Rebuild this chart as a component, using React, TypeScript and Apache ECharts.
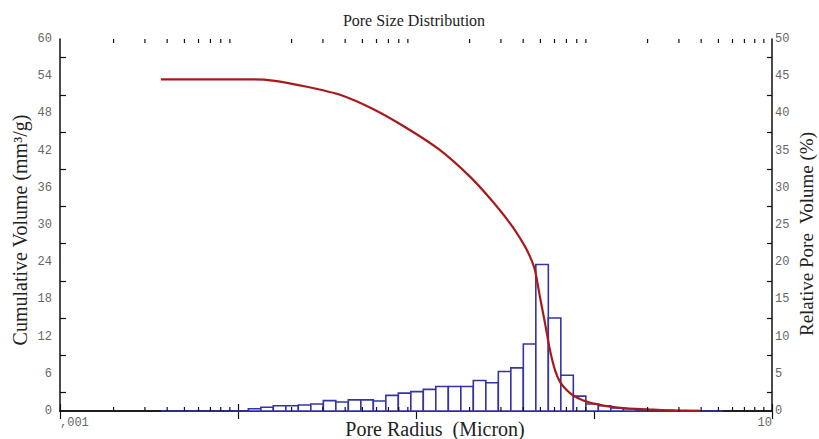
import React, { useEffect, useRef } from "react";
import * as echarts from "echarts";

// Pore radius bin edges (micron), log-spaced
const binEdges = [
  0.00369, 0.00433, 0.00509, 0.00599, 0.00704, 0.00827, 0.00972,
  0.01143, 0.01344, 0.01579, 0.01857, 0.02182, 0.02565, 0.03016, 0.03545,
  0.04167, 0.04898, 0.05758, 0.06768, 0.07956, 0.09353, 0.1099, 0.1292,
  0.1519, 0.1786, 0.2099, 0.2468, 0.2901, 0.341, 0.4008, 0.4712, 0.5539,
  0.6511, 0.7654, 0.8997, 1.058, 1.243, 1.461, 1.718, 2.019, 2.374, 2.79,
  3.28, 3.856, 4.532, 5.328,
];

// Relative pore volume per bin (%)
const relativeVolume = [
  0, 0, 0, 0, 0, 0, 0,
  0.3, 0.5, 0.7, 0.7, 0.8, 0.95, 1.4, 1.2, 1.5, 1.5, 1.35, 2.1, 2.4, 2.6,
  2.9, 3.3, 3.3, 3.3, 4.1, 3.8, 5.3, 5.8, 9.0, 19.7, 12.5, 4.8, 2.0, 0.95,
  0.7, 0.4, 0.3, 0.2, 0.15, 0.1, 0.05, 0.05, 0, 0,
];

// Cumulative intrusion curve: pore radius (micron) and volume (mm3/g)
const cumRadius = [
  0.00369, 0.0061, 0.0121, 0.0157, 0.0244, 0.0374, 0.0573, 0.089, 0.136,
  0.201, 0.26, 0.337, 0.401, 0.437, 0.466, 0.497, 0.531, 0.566,
  0.604, 0.644, 0.702, 0.765, 0.871, 1.036, 1.23, 1.53, 1.98, 2.56, 3.94,
];
const cumVolume = [
  53.5, 53.5, 53.5, 53.3, 52.3, 51.0, 48.7, 45.6, 42.1, 37.8, 34.3,
  30.3, 27.0, 24.9, 22.7, 18.4, 14.1, 9.8, 6.6, 4.7, 3.4, 2.5, 1.7, 1.1,
  0.7, 0.43, 0.27, 0.1, 0.02,
];

// Axis ranges and tick labels
const xMin = 0.001;
const xMax = 10;
const leftMax = 60;
const leftStep = 6;
const rightMax = 50;
const rightStep = 5;
const xLabelMin = ",001";
const xLabelMax = "10";

const TITLE = "Pore Size Distribution";
const X_NAME = "Pore Radius  (Micron)";
const Y_LEFT_NAME = "Cumulative Volume (mm³/g)";
const Y_RIGHT_NAME = "Relative Pore  Volume (%)";

const BLUE = "#3434a4";
const RED = "#a81a1a";
const AXIS = "#111";
const TICK_FONT = "'Liberation Mono', 'DejaVu Sans Mono', monospace";
const SERIF = "'Liberation Serif', 'DejaVu Serif', serif";

export default function App() {
  const ref = useRef<HTMLDivElement>(null);

  useEffect(() => {
    if (!ref.current) return;
    const chart = echarts.init(ref.current, undefined, { renderer: "svg" });

    const histData = relativeVolume.map((v, i) => [binEdges[i], binEdges[i + 1], v]);
    const curveData = cumRadius.map((r, i) => [r, cumVolume[i]]);

    // minor ticks 2..9 inside each decade of the log axis
    const minorTicks: number[][] = [];
    for (let d = xMin; d < xMax * 0.99; d *= 10) {
      for (let m = 2; m <= 9; m++) minorTicks.push([+(d * m).toPrecision(6), 0]);
    }

    const tickLabel = {
      fontFamily: TICK_FONT,
      fontSize: 12,
      color: "#666",
    };

    const option: any = {
      animation: false,
      backgroundColor: "#fff",
      grid: { left: 60, right: 47, top: 39, bottom: 28, containLabel: false },
      xAxis: [
        {
          type: "log",
          logBase: 10,
          min: xMin,
          max: xMax,
          position: "bottom",
          axisLine: { show: true, lineStyle: { color: AXIS, width: 1.5 } },
          axisTick: { show: true, inside: true, length: 7, lineStyle: { color: AXIS, width: 1.2 } },
          splitLine: { show: false },
          axisLabel: {
            ...tickLabel,
            margin: 6,
            showMinLabel: true,
            showMaxLabel: true,
            alignMinLabel: "left",
            alignMaxLabel: "right",
            formatter: (v: number) =>
              v <= xMin * 1.01 ? xLabelMin : v >= xMax * 0.99 ? xLabelMax : "",
          },
        },
        {
          type: "log",
          logBase: 10,
          min: xMin,
          max: xMax,
          position: "top",
          axisLine: { show: true, lineStyle: { color: AXIS, width: 1.5 } },
          axisTick: { show: true, inside: true, length: 8, lineStyle: { color: AXIS, width: 1.2 } },
          splitLine: { show: false },
          axisLabel: { show: false },
        },
      ],
      yAxis: [
        {
          type: "value",
          min: 0,
          max: leftMax,
          interval: leftStep,
          position: "left",
          axisLine: { show: true, lineStyle: { color: AXIS, width: 1.5 } },
          axisTick: { show: false, inside: true },
          minorTick: { show: true, splitNumber: 2, length: 6, lineStyle: { color: AXIS, width: 1.2 } },
          splitLine: { show: false },
          minorSplitLine: { show: false },
          axisLabel: { ...tickLabel, margin: 8 },
        },
        {
          type: "value",
          min: 0,
          max: rightMax,
          interval: rightStep,
          position: "right",
          axisLine: { show: true, lineStyle: { color: AXIS, width: 1.5 } },
          axisTick: { show: false, inside: true },
          minorTick: { show: true, splitNumber: 2, length: 5, lineStyle: { color: AXIS, width: 1.2 } },
          splitLine: { show: false },
          minorSplitLine: { show: false },
          axisLabel: { ...tickLabel, margin: 3 },
        },
      ],
      graphic: [
        {
          type: "text",
          x: 414,
          y: 20,
          style: {
            text: TITLE,
            font: `16px ${SERIF}`,
            fill: "#222",
            textAlign: "center",
            textVerticalAlign: "middle",
          },
        },
        {
          type: "text",
          x: 435,
          y: 429,
          style: {
            text: X_NAME,
            font: `20px ${SERIF}`,
            fill: "#222",
            textAlign: "center",
            textVerticalAlign: "middle",
          },
        },
        {
          type: "text",
          x: 20,
          y: 230,
          rotation: Math.PI / 2,
          style: {
            text: Y_LEFT_NAME,
            font: `20px ${SERIF}`,
            fill: "#222",
            textAlign: "center",
            textVerticalAlign: "middle",
          },
        },
        {
          type: "text",
          x: 806,
          y: 234,
          rotation: Math.PI / 2,
          style: {
            text: Y_RIGHT_NAME,
            font: `19px ${SERIF}`,
            fill: "#222",
            textAlign: "center",
            textVerticalAlign: "middle",
          },
        },
      ],
      series: [
        {
          type: "custom",
          name: "Relative Pore Volume",
          xAxisIndex: 0,
          yAxisIndex: 1,
          z: 3,
          silent: true,
          encode: { x: [0, 1], y: 2 },
          data: histData,
          renderItem: (_params: any, api: any) => {
            const lo = api.value(0);
            const hi = api.value(1);
            const v = api.value(2);
            const a = api.coord([lo, 0]);
            const b = api.coord([lo, v]);
            const c = api.coord([hi, v]);
            const d = api.coord([hi, 0]);
            return {
              type: "polygon",
              shape: { points: [a, b, c, d] },
              style: { fill: "#fff", stroke: BLUE, lineWidth: 1.6 },
            };
          },
        },
        {
          type: "line",
          name: "Cumulative Volume",
          xAxisIndex: 0,
          yAxisIndex: 0,
          z: 4,
          showSymbol: false,
          silent: true,
          smooth: 0.25,
          data: curveData,
          lineStyle: { color: RED, width: 2.2 },
          itemStyle: { color: RED },
        },
        {
          type: "custom",
          name: "minor ticks",
          xAxisIndex: 0,
          yAxisIndex: 0,
          z: 5,
          silent: true,
          clip: false,
          data: minorTicks,
          renderItem: (params: any, api: any) => {
            const x = api.coord([api.value(0), 0])[0];
            const cs = params.coordSys;
            const bottom = cs.y + cs.height;
            const style = { stroke: AXIS, lineWidth: 1.2 };
            return {
              type: "group",
              children: [
                { type: "line", shape: { x1: x, y1: bottom, x2: x, y2: bottom - 4 }, style },
                { type: "line", shape: { x1: x, y1: cs.y, x2: x, y2: cs.y + 4 }, style },
              ],
            };
          },
        },
      ],
    };

    chart.setOption(option);
    return () => chart.dispose();
  }, []);

  return (
    <div
      ref={ref}
      style={{ position: "fixed", left: 0, top: 0, width: 819, height: 439, background: "#fff" }}
    />
  );
}
